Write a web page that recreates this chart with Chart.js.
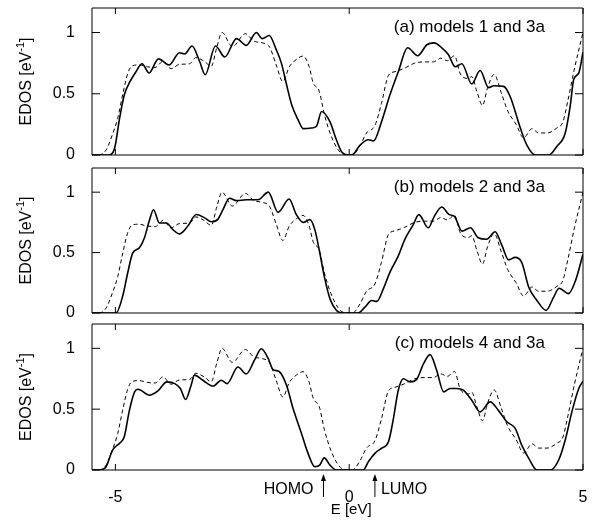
<!DOCTYPE html>
<html>
<head>
<meta charset="utf-8">
<script src="https://cdn.jsdelivr.net/npm/chart.js@4.4.0/dist/chart.umd.min.js"></script>
<style>
  html, body { margin: 0; padding: 0; background: #fff; }
  #wrap { position: relative; width: 593px; height: 520px; }
  .panel { position: absolute; left: 0; width: 593px; }
</style>
</head>
<body>
<div id="wrap">
  <div class="panel" style="top:0;height:160px"><canvas id="pa"></canvas></div>
  <div class="panel" style="top:160px;height:160px"><canvas id="pb"></canvas></div>
  <div class="panel" style="top:316px;height:204px"><canvas id="pc"></canvas></div>
</div>
<script>
// axis ticks
const xTicks = [-5, 0, 5];
const yTicks = [0, 0.5, 1];
const panelLabels = ['(a) models 1 and 3a', '(b) models 2 and 3a', '(c) models 4 and 3a'];
const homoE = -0.55;
const lumoE = 0.55;

// model 3a (dashed, same reference curve in every panel) - [E, EDOS]
const model3a = [[-5.5,0],[-5.35,0],[-5.2,0.04],[-5.06,0.17],[-4.95,0.3],[-4.84,0.5],[-4.74,0.66],[-4.65,0.725],
  [-4.5,0.735],[-4.32,0.72],[-4.15,0.715],[-3.98,0.765],[-3.81,0.705],[-3.63,0.74],[-3.41,0.745],[-3.28,0.795],
  [-3.1,0.765],[-2.95,0.725],[-2.83,0.88],[-2.72,1.0],[-2.5,0.885],[-2.22,0.99],[-2.04,0.93],[-1.85,0.915],
  [-1.7,0.88],[-1.56,0.735],[-1.42,0.6],[-1.28,0.72],[-1.13,0.78],[-0.985,0.808],[-0.86,0.725],[-0.77,0.59],
  [-0.64,0.52],[-0.53,0.33],[-0.39,0.16],[-0.24,0.045],[-0.12,0.005],[0.07,0],[0.23,0.075],[0.37,0.18],
  [0.55,0.24],[0.69,0.42],[0.84,0.65],[0.98,0.68],[1.19,0.71],[1.4,0.75],[1.64,0.76],[1.8,0.76],[1.96,0.79],
  [2.1,0.77],[2.25,0.81],[2.38,0.66],[2.55,0.625],[2.62,0.64],[2.73,0.52],[2.85,0.405],[2.96,0.55],[3.1,0.658],
  [3.25,0.51],[3.39,0.36],[3.57,0.25],[3.73,0.14],[3.91,0.215],[4.05,0.18],[4.23,0.18],[4.44,0.22],[4.57,0.27],
  [4.68,0.45],[4.82,0.71],[5.0,1.0]];

// model 1 (solid, panel a)
const model1 = [[-5.5,0],[-5.15,0],[-5.02,0.05],[-4.91,0.3],[-4.81,0.49],[-4.7,0.59],[-4.56,0.68],[-4.43,0.745],
  [-4.28,0.67],[-4.08,0.785],[-3.85,0.735],[-3.63,0.835],[-3.52,0.825],[-3.36,0.89],[-3.2,0.765],[-3.08,0.655],
  [-2.86,0.89],[-2.66,0.8],[-2.41,0.95],[-2.2,0.895],[-1.985,1.0],[-1.86,0.95],[-1.71,0.975],[-1.56,0.86],
  [-1.45,0.75],[-1.34,0.575],[-1.23,0.41],[-1.09,0.285],[-0.985,0.215],[-0.81,0.22],[-0.7,0.235],[-0.59,0.355],
  [-0.41,0.27],[-0.28,0.13],[-0.15,0.02],[0,0],[0.08,0.005],[0.23,0.08],[0.41,0.125],[0.52,0.115],[0.69,0.27],
  [0.87,0.49],[1.05,0.68],[1.25,0.875],[1.465,0.81],[1.66,0.9],[1.82,0.915],[1.98,0.875],[2.12,0.82],[2.27,0.72],
  [2.41,0.745],[2.62,0.58],[2.8,0.69],[2.98,0.55],[3.09,0.565],[3.3,0.56],[3.44,0.48],[3.66,0.22],[3.8,0.08],
  [3.98,0],[4.27,0],[4.44,0.07],[4.62,0.18],[4.73,0.41],[4.8,0.615],[4.91,0.67],[5.0,0.84]];

// model 2 (solid, panel b)
const model2 = [[-5.5,0],[-4.985,0],[-4.84,0.145],[-4.735,0.335],[-4.63,0.495],[-4.485,0.54],[-4.38,0.62],
  [-4.27,0.77],[-4.185,0.855],[-4.06,0.745],[-3.91,0.745],[-3.77,0.69],[-3.63,0.655],[-3.45,0.72],[-3.27,0.815],
  [-3.09,0.787],[-2.95,0.755],[-2.81,0.775],[-2.7,0.855],[-2.56,0.95],[-2.41,0.93],[-2.2,0.937],[-1.95,0.937],
  [-1.73,1.0],[-1.52,0.833],[-1.285,0.943],[-1.13,0.814],[-0.985,0.75],[-0.84,0.773],[-0.735,0.69],[-0.63,0.5],
  [-0.52,0.28],[-0.41,0.117],[-0.27,0.02],[-0.15,0],[0.19,0],[0.34,0.05],[0.48,0.104],[0.59,0.096],[0.73,0.2],
  [0.87,0.336],[1.05,0.473],[1.19,0.61],[1.37,0.732],[1.49,0.814],[1.69,0.705],[1.82,0.8],[1.98,0.877],
  [2.14,0.814],[2.25,0.8],[2.41,0.678],[2.59,0.705],[2.76,0.623],[2.94,0.61],[3.12,0.672],[3.27,0.555],
  [3.41,0.44],[3.55,0.46],[3.69,0.418],[3.84,0.213],[4.015,0.104],[4.21,0.022],[4.37,0.13],[4.49,0.205],
  [4.69,0.16],[4.84,0.268],[5.0,0.486]];

// model 4 (solid, panel c)
const model4 = [[-5.5,0],[-5.34,0],[-5.2,0.027],[-5.06,0.164],[-4.91,0.22],[-4.81,0.273],[-4.7,0.49],[-4.59,0.642],
  [-4.52,0.664],[-4.27,0.615],[-4.09,0.65],[-3.9,0.724],[-3.73,0.71],[-3.61,0.67],[-3.5,0.58],[-3.38,0.697],
  [-3.31,0.78],[-3.13,0.738],[-2.91,0.69],[-2.735,0.738],[-2.61,0.71],[-2.38,0.847],[-2.2,0.79],[-2.02,0.907],
  [-1.88,0.997],[-1.73,0.915],[-1.63,0.825],[-1.5,0.81],[-1.34,0.697],[-1.2,0.505],[-1.02,0.3],[-0.88,0.137],
  [-0.735,0.027],[-0.63,0.04],[-0.534,0.1],[-0.41,0.04],[-0.27,0],[0.3,0],[0.41,0.068],[0.55,0.137],[0.69,0.178],
  [0.84,0.232],[0.94,0.41],[1.05,0.656],[1.16,0.75],[1.3,0.724],[1.44,0.743],[1.59,0.874],[1.73,0.948],
  [1.87,0.82],[2.02,0.642],[2.16,0.67],[2.3,0.67],[2.44,0.656],[2.62,0.574],[2.8,0.478],[3.015,0.56],
  [3.19,0.49],[3.37,0.396],[3.55,0.342],[3.69,0.205],[3.84,0.096],[4.015,0],[4.3,0],[4.48,0.082],[4.62,0.246],
  [4.77,0.49],[4.91,0.67],[5.0,0.73]];

const FONT = '"Liberation Sans", Arial, Helvetica, sans-serif';

function toPoints(arr) {
  return arr.map(p => ({ x: p[0], y: p[1] }));
}

// frame, inward ticks, panel label, y title, HOMO/LUMO marks
const framePlugin = {
  id: 'panelFrame',
  afterDraw(chart, args, opts) {
    const ctx = chart.ctx;
    const a = chart.chartArea;
    const xs = chart.scales.x, ys = chart.scales.y;
    ctx.save();
    ctx.setTransform(1, 0, 0, 1, 0, 0);
    ctx.setLineDash([]);
    ctx.globalAlpha = 1;
    ctx.strokeStyle = '#000';
    ctx.fillStyle = '#000';
    ctx.lineWidth = 1;

    ctx.beginPath();
    ctx.moveTo(a.left, a.top);
    ctx.lineTo(a.right, a.top);
    ctx.lineTo(a.right, a.bottom);
    ctx.lineTo(a.left, a.bottom);
    ctx.closePath();
    yTicks.forEach(v => {
      const py = ys.getPixelForValue(v);
      ctx.moveTo(a.left, py); ctx.lineTo(a.left + 8, py);
      ctx.moveTo(a.right, py); ctx.lineTo(a.right - 8, py);
    });
    xTicks.forEach(v => {
      const px = xs.getPixelForValue(v);
      ctx.moveTo(px, a.top); ctx.lineTo(px, a.top + 6);
      ctx.moveTo(px, a.bottom); ctx.lineTo(px, a.bottom - 6);
    });
    ctx.stroke();

    ctx.font = '17px ' + FONT;
    ctx.textAlign = 'right';
    ctx.textBaseline = 'middle';
    ctx.fillText(opts.label, a.right - 38, a.top + 19);

    // y axis title with superscript
    const main = 'EDOS [eV', sup = '-1', end = ']';
    ctx.font = '16px ' + FONT;
    const w1 = ctx.measureText(main).width, w3 = ctx.measureText(end).width;
    ctx.font = '11px ' + FONT;
    const w2 = ctx.measureText(sup).width;
    const total = w1 + w2 + w3;
    ctx.translate(27, (a.top + a.bottom) / 2);
    ctx.rotate(-Math.PI / 2);
    ctx.textAlign = 'left';
    ctx.font = '16px ' + FONT;
    ctx.fillText(main, -total / 2, 0);
    ctx.font = '11px ' + FONT;
    ctx.fillText(sup, -total / 2 + w1, -6);
    ctx.font = '16px ' + FONT;
    ctx.fillText(end, -total / 2 + w1 + w2, 0);
    ctx.setTransform(1, 0, 0, 1, 0, 0);

    if (opts.bottom) {
      const yMid = a.bottom + 20;
      ctx.font = '16px ' + FONT;
      const hx = xs.getPixelForValue(homoE), lx = xs.getPixelForValue(lumoE);
      ctx.textAlign = 'right';
      ctx.fillText('HOMO', hx - 10, yMid);
      ctx.textAlign = 'left';
      ctx.fillText('LUMO', lx + 6, yMid);
      [hx, lx].forEach(px => {
        ctx.beginPath();
        ctx.moveTo(px, a.bottom + 27);
        ctx.lineTo(px, a.bottom + 7);
        ctx.stroke();
        ctx.beginPath();
        ctx.moveTo(px, a.bottom + 4);
        ctx.lineTo(px - 2.5, a.bottom + 11);
        ctx.lineTo(px + 2.5, a.bottom + 11);
        ctx.closePath();
        ctx.fill();
      });
      ctx.textAlign = 'center';
      ctx.font = '15px ' + FONT;
      ctx.fillText('E [eV]', xs.getPixelForValue(0) + 2, a.bottom + 40);
    }
    ctx.restore();
  }
};

function makeChart(id, solid, label, pad, bottom) {
  return new Chart(document.getElementById(id), {
    type: 'line',
    data: {
      datasets: [
        { data: toPoints(solid), borderColor: '#000', borderWidth: 1.6, pointRadius: 0,
          cubicInterpolationMode: 'monotone', fill: false },
        { data: toPoints(model3a), borderColor: '#000', borderWidth: 1, borderDash: [4, 3], pointRadius: 0,
          cubicInterpolationMode: 'monotone', fill: false }
      ]
    },
    options: {
      responsive: true,
      maintainAspectRatio: false,
      animation: false,
      layout: { padding: pad },
      plugins: { legend: { display: false }, tooltip: { enabled: false }, panelFrame: { label: label, bottom: bottom } },
      scales: {
        x: {
          type: 'linear', min: -5.5, max: 5, display: bottom,
          grid: { display: false }, border: { display: false },
          afterBuildTicks: s => { s.ticks = xTicks.map(v => ({ value: v })); },
          afterFit: s => {
            s.height = bottom ? 50 : 0;
            s.paddingLeft = 0; s.paddingRight = 0;
          },
          ticks: { color: '#000', padding: 10, font: { size: 16, family: FONT } }
        },
        y: {
          min: 0, max: 1.2,
          grid: { display: false }, border: { display: false },
          afterBuildTicks: s => { s.ticks = yTicks.map(v => ({ value: v })); },
          afterFit: s => {
            s.width = 92;
            s.paddingTop = 0; s.paddingBottom = 0;
          },
          ticks: { color: '#000', padding: 9, font: { size: 16, family: FONT }, callback: v => String(v) }
        }
      }
    },
    plugins: [framePlugin]
  });
}

makeChart('pa', model1, panelLabels[0], { top: 8, right: 10, bottom: 5, left: 0 }, false);
makeChart('pb', model2, panelLabels[1], { top: 8, right: 10, bottom: 7, left: 0 }, false);
makeChart('pc', model4, panelLabels[2], { top: 8, right: 10, bottom: 0, left: 0 }, true);
</script>
</body>
</html>
